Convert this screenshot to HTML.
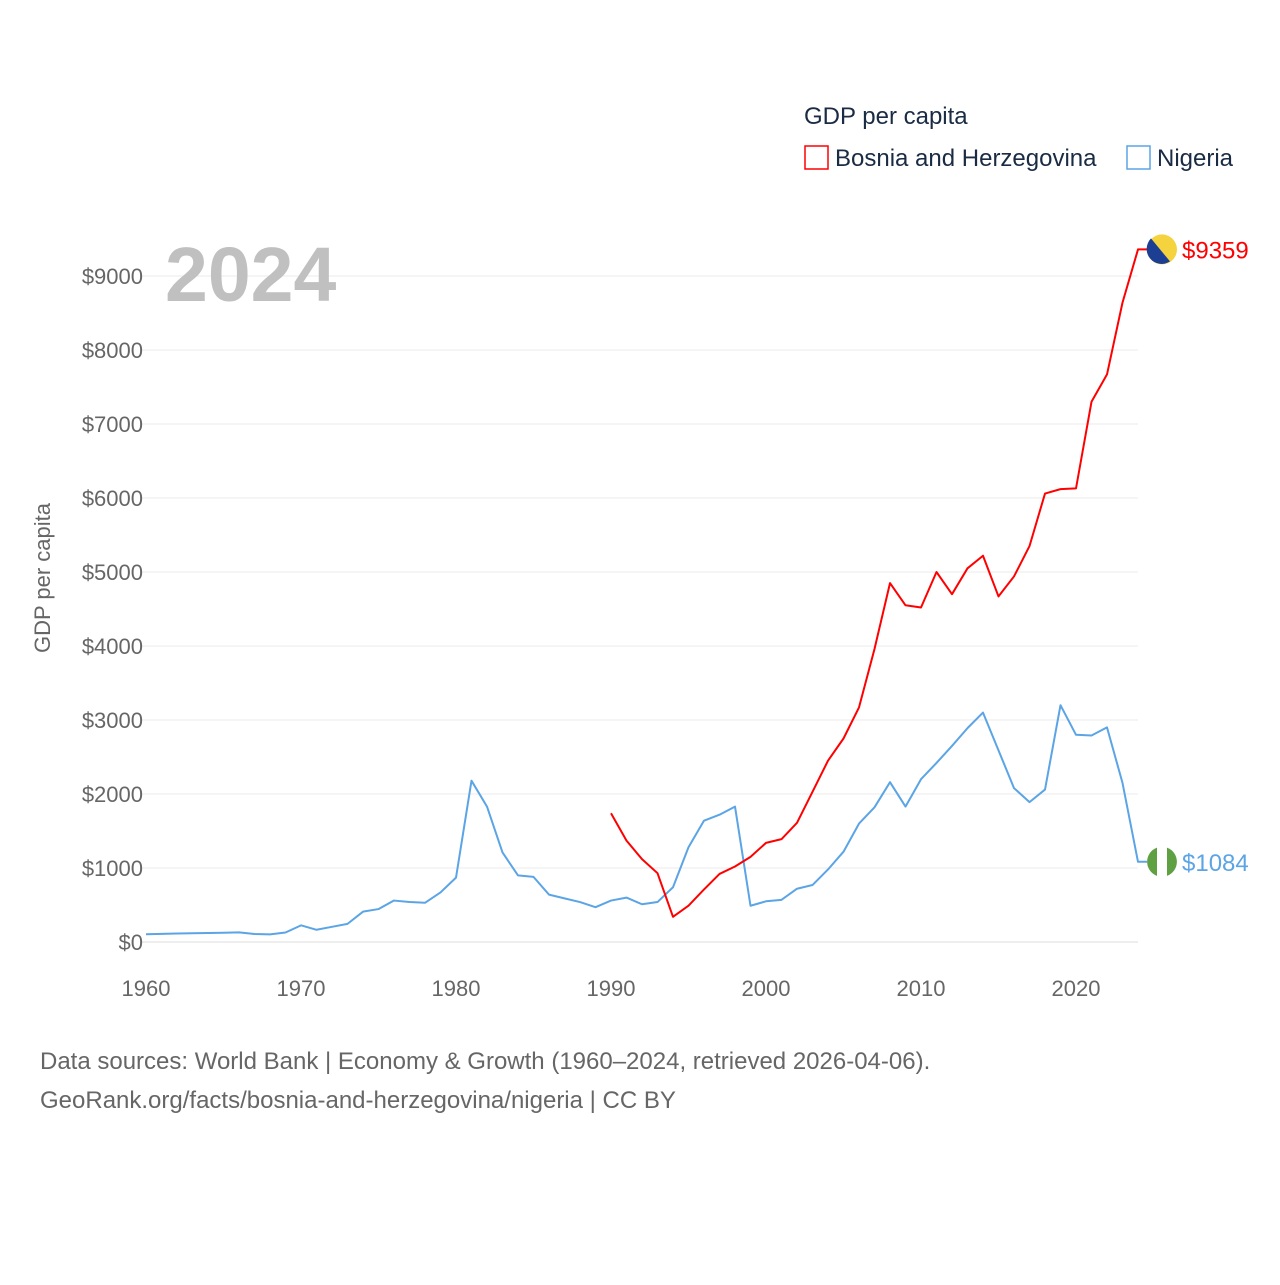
<!DOCTYPE html>
<html><head><meta charset="utf-8"><style>
body{margin:0;background:#fff;font-family:"Liberation Sans",sans-serif}
</style></head><body>
<svg width="1280" height="1280" viewBox="0 0 1280 1280" font-family="Liberation Sans, sans-serif">
<g id="grid"></g>
<g id="yticks"></g>
<g id="xticks"></g>
<text x="165" y="301" font-size="77" font-weight="bold" fill="#c0c0c0">2024</text>
<text transform="translate(50,578) rotate(-90)" text-anchor="middle" font-size="22" fill="#666">GDP per capita</text>
<text x="804" y="124" font-size="24" fill="#1a2b44">GDP per capita</text>
<g><rect x="805" y="146" width="23" height="23" fill="none" stroke="#ff0000" stroke-width="1.5"/><text x="835" y="166" font-size="24" fill="#1a2b44">Bosnia and Herzegovina</text></g>
<g><rect x="1127" y="146" width="23" height="23" fill="none" stroke="#5ba4e5" stroke-width="1.5"/><text x="1157" y="166" font-size="24" fill="#1a2b44">Nigeria</text></g>
<g id="series"></g>
<text x="40" y="1069" font-size="24" fill="#666">Data sources: World Bank | Economy &amp; Growth (1960–2024, retrieved 2026-04-06).</text>
<text x="40" y="1108" font-size="24" fill="#666">GeoRank.org/facts/bosnia-and-herzegovina/nigeria | CC BY</text>
</svg>
<script>
const yTicks=[0,1000,2000,3000,4000,5000,6000,7000,8000,9000];
const xTicks=[1960,1970,1980,1990,2000,2010,2020];
const nigeriaYears=[];for(let y=1960;y<=2024;y++)nigeriaYears.push(y);
const nigeriaValues=[105,110,115,118,122,125,130,108,103,128,225,165,205,245,410,445,560,540,530,670,870,2180,1830,1210,900,880,640,590,540,470,560,600,510,540,740,1280,1640,1720,1830,490,550,570,720,770,980,1220,1600,1820,2160,1830,2200,2420,2650,2890,3100,2590,2080,1890,2060,3200,2800,2790,2900,2150,1084];
const bosniaYears=[];for(let y=1990;y<=2024;y++)bosniaYears.push(y);
const bosniaValues=[1740,1370,1120,930,340,490,710,920,1020,1150,1340,1390,1610,2030,2450,2750,3170,3960,4850,4550,4520,5000,4700,5050,5220,4670,4940,5350,6060,6120,6130,7300,7670,8640,9359];
const NS="http://www.w3.org/2000/svg";
const X=v=>146+(v-1960)*15.5, Y=v=>942-v*0.074;
function mk(t,a,p){const e=document.createElementNS(NS,t);for(const k in a)e.setAttribute(k,a[k]);p.appendChild(e);return e;}
const grid=document.getElementById('grid'),yt=document.getElementById('yticks'),xt=document.getElementById('xticks'),sr=document.getElementById('series');
yTicks.forEach(v=>{
 const l=mk('line',{x1:140,x2:1138,y1:Y(v),y2:Y(v),stroke:v===0?'#ddd':'#ebebeb','stroke-width':1},grid);
 
 
 const t=mk('text',{x:143,y:Y(v)+8,'text-anchor':'end','font-size':22,fill:'#666'},yt);t.textContent='$'+v;
 
 
});
xTicks.forEach(v=>{
 const t=mk('text',{x:X(v),y:996,'text-anchor':'middle','font-size':22,fill:'#666'},xt);t.textContent=v;
 
 
});
function line(years,vals,color,name){
 const d=years.map((y,i)=>(i?'L':'M')+X(y)+','+Y(vals[i])).join('')+'H1150';
 const p=mk('path',{d:d,fill:'none',stroke:color,'stroke-width':2,'stroke-linejoin':'round'},sr);
 
 
 const last=vals[vals.length-1],cy=Y(last);
 const c=mk('circle',{cx:1162,cy:cy,r:15,fill:color==='#ff0000'?'#f5d33f':'#ffffff'},sr);
 
 
 if(color==='#ff0000'){mk('path',{d:`M1151,${cy-11}L1170,${cy+12}A15,15 0 0 1 1150,${cy+9}A15,15 0 0 1 1151,${cy-11}Z`,fill:'#1c3f94'},sr);}
 else{mk('path',{d:`M1157,${cy-14.1}A15,15 0 0 0 1157,${cy+14.1}Z`,fill:'#5fa043'},sr);mk('path',{d:`M1167,${cy-14.1}A15,15 0 0 1 1167,${cy+14.1}Z`,fill:'#5fa043'},sr);}
 const t=mk('text',{x:1182,y:cy+9,'font-size':24,fill:color},sr);t.textContent='$'+last;
 
 
}
line(nigeriaYears,nigeriaValues,'#5ba4e5','nigeria');
line(bosniaYears,bosniaValues,'#ff0000','bosnia');
</script>
</body></html>
